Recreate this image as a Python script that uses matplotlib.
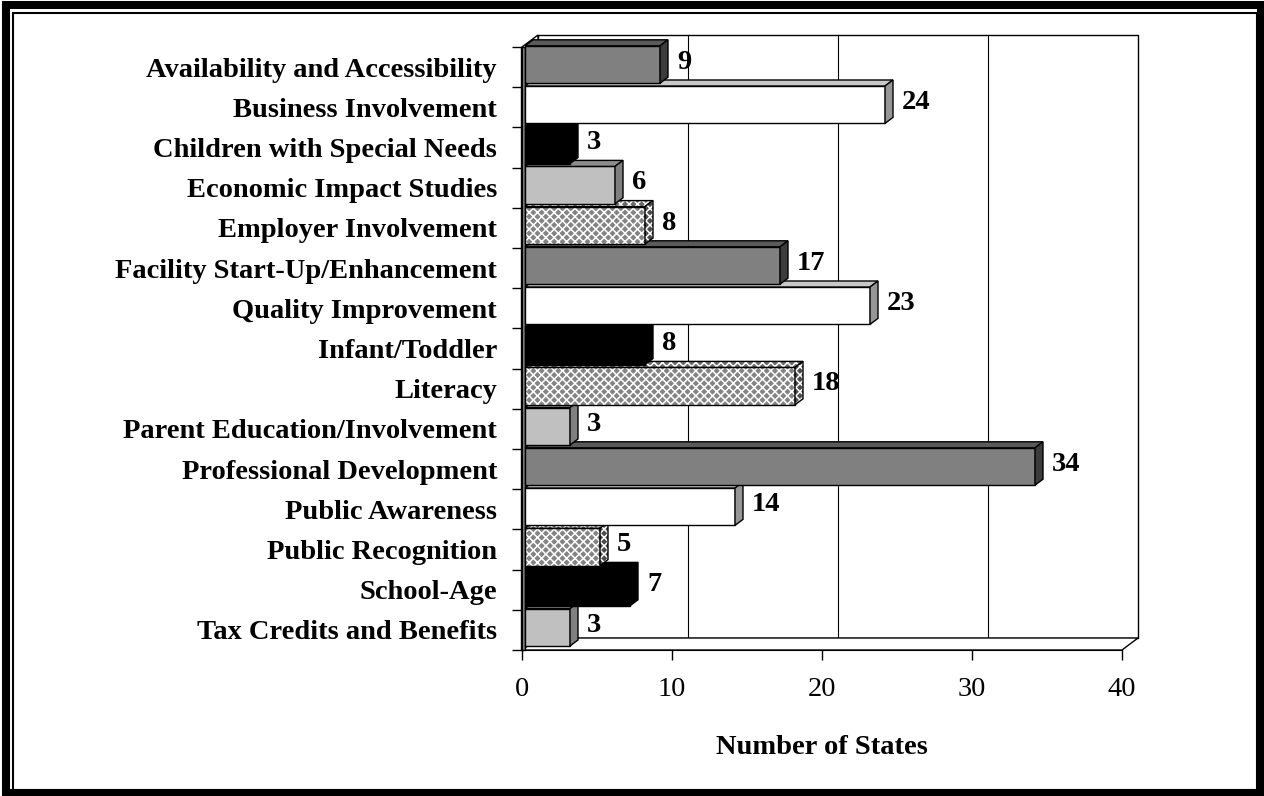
import numpy as np
import matplotlib.pyplot as plt
from matplotlib.patches import Polygon, Rectangle

plt.rcParams['font.family'] = ['Liberation Serif', 'DejaVu Serif']
plt.rcParams['hatch.linewidth'] = 1.1

# data, top to bottom as in the chart
categories = ["Availability and Accessibility", "Business Involvement",
              "Children with Special Needs", "Economic Impact Studies",
              "Employer Involvement", "Facility Start-Up/Enhancement",
              "Quality Improvement", "Infant/Toddler", "Literacy",
              "Parent Education/Involvement", "Professional Development",
              "Public Awareness", "Public Recognition", "School-Age",
              "Tax Credits and Benefits"]
states = [9, 24, 3, 6, 8, 17, 23, 8, 18, 3, 34, 14, 5, 7, 3]
fills = ["dark", "white", "black", "light", "dots", "dark", "white", "black",
         "dots", "light", "dark", "white", "dots", "black", "light"]
x_ticks = [0, 10, 20, 30, 40]

# front, top, side colours for each fill style
styles = {
    "dark": ("#808080", "#5a5a5a", "#3c3c3c"),
    "white": ("#ffffff", "#c8c8c8", "#969696"),
    "black": ("#000000", "#000000", "#000000"),
    "light": ("#c0c0c0", "#8c8c8c", "#808080"),
    "dots": ("#848484", "#6a6a6a", "#4c4c4c"),
}

W, H = 1264, 796
fig = plt.figure(figsize=(W / 100, H / 100), dpi=100)
ax = fig.add_axes([522 / W, 1 - 650 / H, 600 / W, 603 / H])
n = len(categories)
ax.set_xlim(0, 40)
ax.set_ylim(0, n)

WX, WY = 16 / 15, 12 / 40.2     # wall depth in data units
BX, BY = 8 / 15, 6 / 40.2       # bar depth
X0 = 0.2                        # bars sit a little behind the front plane
FS = 20.5


def face(pts, fc, hatch=False, z=1):
    if hatch:
        ax.add_patch(Polygon(pts, closed=True, facecolor=fc, edgecolor="white",
                             hatch="xxxx", lw=0, clip_on=False, zorder=z))
        ax.add_patch(Polygon(pts, closed=True, fill=False, edgecolor="black",
                             lw=1, clip_on=False, zorder=z))
    else:
        ax.add_patch(Polygon(pts, closed=True, facecolor=fc, edgecolor="black",
                             lw=1, clip_on=False, zorder=z))


# walls
face([(WX, WY), (40 + WX, WY), (40 + WX, n + WY), (WX, n + WY)], "white", z=0)
for t in x_ticks[1:-1]:
    ax.plot([t + WX, t + WX], [WY, n + WY], color="black", lw=0.8,
            clip_on=False, zorder=0.5)
face([(0, 0), (40, 0), (40 + WX, WY), (WX, WY)], "white", z=0.6)
face([(0, 0), (0, n), (WX, n + WY), (WX, WY)], "white", z=0.6)
face([(-0.07, 0), (X0, 0), (X0, n), (-0.07, n)], "#808080", z=0.7)

# bars, bottom first so the upper bars overlap the lower tops
z = 1
for k in range(n - 1, -1, -1):
    v = states[k]
    front, top, side = styles[fills[k]]
    dots = fills[k] == "dots"
    y0 = n - k - 1
    yb, yt = y0 + 0.1, y0 + 1.03
    x1 = X0 + v
    face([(X0, yb), (x1, yb), (x1, yt), (X0, yt)], front, dots, z)
    face([(X0, yt), (x1, yt), (x1 + BX, yt + BY), (X0 + BX, yt + BY)], top, dots, z)
    face([(x1, yb), (x1, yt), (x1 + BX, yt + BY), (x1 + BX, yb + BY)], side, dots, z)
    ax.text(x1 + BX + 0.6, y0 + 0.62, str(v), fontsize=FS, fontweight="bold",
            ha="left", va="center", zorder=z + 0.5)
    z += 1

for s in ["top", "right"]:
    ax.spines[s].set_visible(False)
ax.spines["left"].set_zorder(0.8)
ax.spines["bottom"].set_zorder(0.8)

ax.set_xticks(x_ticks)
ax.tick_params(axis="x", direction="out", length=7.5, width=1, pad=12,
               labelsize=FS)
ax.set_yticks(np.arange(n + 1))
ax.set_yticklabels([])
ax.tick_params(axis="y", which="major", direction="out", length=7.5, width=1)
ax.set_yticks(np.arange(n) + 0.5, minor=True)
ax.set_yticklabels(categories[::-1], minor=True, fontsize=FS, fontweight="bold")
ax.tick_params(axis="y", which="minor", length=0, pad=18)
ax.set_xlabel("Number of States", fontsize=FS, fontweight="bold", labelpad=24)

# double frame around the whole picture
fig.add_artist(Rectangle((6 / W, 3 / H), 1255 / W, 788 / H, fill=False,
                         lw=5.8, edgecolor="black", transform=fig.transFigure))
fig.add_artist(Rectangle((12.5 / W, 6.5 / H), 1244.5 / W, 777 / H, fill=False,
                         lw=1.5, edgecolor="black", transform=fig.transFigure))

fig.savefig("out.png", dpi=100)
